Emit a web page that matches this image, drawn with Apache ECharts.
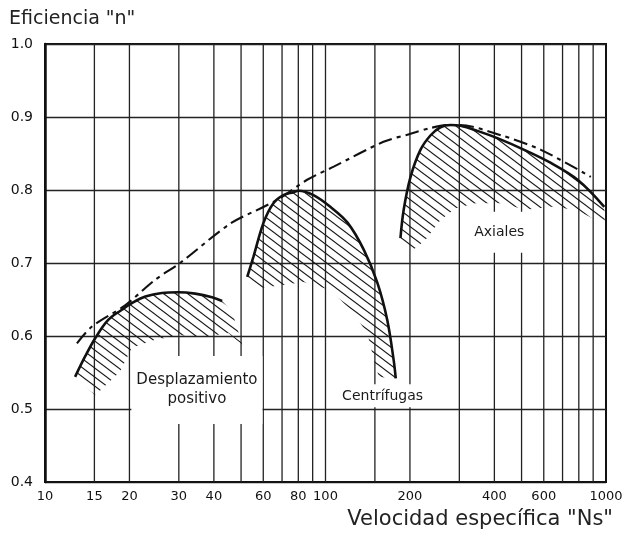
<!DOCTYPE html>
<html>
<head>
<meta charset="utf-8">
<script src="https://cdn.jsdelivr.net/npm/echarts@6/dist/echarts.min.js"></script>
<style>html,body{margin:0;padding:0;background:#fff}#c{width:628px;height:536px}</style>
</head>
<body>
<div id="c"></div>
<script>
// ---- data ----
const xTickLabels = [10, 15, 20, 30, 40, 60, 80, 100, 200, 400, 600, 1000];
const xGridNs = [15, 20, 30, 40, 50, 60, 70, 80, 90, 100, 150, 200, 300, 400, 500, 600, 700, 800, 900];
const yTicks = [0.4, 0.5, 0.6, 0.7, 0.8, 0.9, 1.0];

const dispCurve = [[12.8,0.544],[13.9,0.572],[15.1,0.597],[16.8,0.622],[18.8,0.636],[20.4,0.645],[22.8,0.654],[26.1,0.659],[29.9,0.660],[34.3,0.658],[39.4,0.653],[42.8,0.648]];
const dispHatchEdge = [[46.5,0.633],[50.5,0.588],[45.0,0.604],[37.3,0.599],[30.3,0.601],[24.7,0.595],[20.4,0.584],[18.5,0.551],[15.1,0.519]];

const centCurve = [[52.6,0.681],[55.3,0.708],[60.1,0.755],[65.2,0.782],[70.8,0.793],[76.9,0.797],[80.1,0.799],[90.6,0.793],[104,0.777],[120,0.755],[137,0.718],[153,0.673],[166,0.622],[175,0.567],[178,0.542]];
const centHatchEdge = [[155,0.544],[148.8,0.567],[140.9,0.604],[122.8,0.636],[104.2,0.663],[83.6,0.674],[65.4,0.668],[57.0,0.665]];

const axialCurve = [[185,0.734],[190,0.773],[201,0.818],[218,0.855],[237,0.875],[257,0.886],[279,0.889],[303,0.888],[348,0.881],[410,0.871],[511,0.855],[636,0.837],[792,0.814],[986,0.777]];
const axialHatchEdge = [[992,0.751],[921,0.759],[781,0.773],[636,0.777],[518,0.773],[422,0.782],[343,0.782],[291,0.775],[257,0.759],[227.5,0.732],[201,0.715]];

const envelope = [[13.0,0.590],[14.7,0.613],[19.3,0.642],[24.7,0.677],[30.3,0.700],[45.8,0.754],[60.3,0.777],[69,0.789],[86,0.814],[107,0.832],[161,0.866],[201,0.877],[237,0.885],[275,0.889],[300,0.889],[422,0.875],[586,0.855],[883,0.818]];

const labelTexts = ['Desplazamiento\npositivo', 'Centrífugas', 'Axiales'];
const labelNs = [34.8, 159.8, 416.5];
const labelEff = [0.526, 0.518, 0.742];

const titleText = 'Eficiencia "n"';
const xTitleText = 'Velocidad específica "Ns"';

// ---- helpers ----
const L = v => Math.log10(v);
const toXY = arr => arr.map(p => [L(p[0]), p[1]]);

function makeHatch() {
  const w = 12, h = 9;
  const c = document.createElement('canvas');
  c.width = w; c.height = h;
  const g = c.getContext('2d');
  g.strokeStyle = '#1a1a1a';
  g.lineWidth = 1.1;
  [-w, 0, w].forEach(o => {
    g.beginPath();
    g.moveTo(o - 2, -2 * h / w);
    g.lineTo(o + w + 2, h + 2 * h / w);
    g.stroke();
  });
  return c;
}
const hatchImg = makeHatch();

function hatchSeries(curve, edge) {
  const poly = toXY(curve.concat(edge));
  return {
    type: 'custom',
    z: 2,
    silent: true,
    data: [poly[0]],
    encode: { x: 0, y: 1 },
    renderItem: function (params, api) {
      const pts = poly.map(p => api.coord(p));
      return {
        type: 'polygon',
        shape: { points: pts },
        style: { fill: { image: hatchImg, repeat: 'repeat' }, stroke: null }
      };
    }
  };
}

function curveSeries(curve) {
  return {
    type: 'line', z: 3, silent: true, symbol: 'none', smooth: 0.35,
    data: toXY(curve),
    lineStyle: { color: '#111', width: 2.6 }
  };
}

const chart = echarts.init(document.getElementById('c'), null, { renderer: 'canvas' });
const FONT = 'DejaVu Sans';

const option = {
  animation: false,
  backgroundColor: '#fff',
  textStyle: { fontFamily: FONT },
  title: [
    { text: titleText, left: 9, top: 10, padding: 0,
      textStyle: { fontFamily: FONT, fontSize: 19, fontWeight: 'normal', color: '#222' } },
    { text: xTitleText, right: 15, top: 509, padding: 0,
      textStyle: { fontFamily: FONT, fontSize: 21, fontWeight: 'normal', color: '#222' } }
  ],
  grid: { left: 45, right: 22, top: 44, bottom: 54, show: true, borderColor: '#111', borderWidth: 2, backgroundColor: 'transparent' },
  xAxis: {
    type: 'value', min: L(10), max: L(1000),
    axisLine: { show: true, lineStyle: { color: '#111', width: 1.5 } },
    axisTick: { show: false },
    splitLine: { show: false },
    axisLabel: {
      customValues: xTickLabels.map(L),
      formatter: v => String(Math.round(Math.pow(10, v))),
      margin: 8, fontFamily: FONT, fontSize: 13, color: '#111',
      showMinLabel: true, showMaxLabel: true
    }
  },
  yAxis: {
    type: 'value', min: yTicks[0], max: yTicks[yTicks.length - 1], interval: 0.1,
    axisLine: { show: true, lineStyle: { color: '#111', width: 2.5 } },
    axisTick: { show: false },
    splitLine: { show: true, lineStyle: { color: '#222', width: 1.3 } },
    axisLabel: { formatter: v => v.toFixed(1), margin: 12, fontFamily: FONT, fontSize: 14, color: '#111' }
  },
  series: [
    {
      type: 'custom', z: 1, silent: true,
      data: xGridNs.map(v => [L(v), yTicks[0]]),
      encode: { x: 0, y: 1 },
      renderItem: function (params, api) {
        const x = api.coord([api.value(0), api.value(1)])[0];
        const cs = params.coordSys;
        return { type: 'line', shape: { x1: x, y1: cs.y, x2: x, y2: cs.y + cs.height },
                 style: { stroke: '#222', lineWidth: 1.3 } };
      }
    },
    hatchSeries(dispCurve, dispHatchEdge),
    hatchSeries(centCurve, centHatchEdge),
    hatchSeries(axialCurve, axialHatchEdge),
    curveSeries(dispCurve),
    curveSeries(centCurve),
    curveSeries(axialCurve),
    {
      type: 'line', z: 3, silent: true, symbol: 'none', smooth: 0.3,
      data: toXY(envelope),
      lineStyle: { color: '#111', width: 2.1, type: [14, 5, 4, 5] }
    },
    {
      type: 'scatter', z: 10, silent: true, symbolSize: 0,
      itemStyle: { opacity: 1 },
      data: labelTexts.map((t, i) => {
        const pads = [[1, 5, 29, 5], [2, 3, 2, 3], [9, 12, 13, 12]];
        const sizes = [15, 14, 14];
        return {
          value: [L(labelNs[i]), labelEff[i]],
          label: {
            show: true, position: 'inside', formatter: t, opacity: 1,
            fontFamily: FONT, fontSize: sizes[i], lineHeight: 19, color: '#1a1a1a',
            backgroundColor: '#fff', padding: pads[i], align: 'center'
          }
        };
      })
    }
  ]
};
chart.setOption(option);
</script>
</body>
</html>
